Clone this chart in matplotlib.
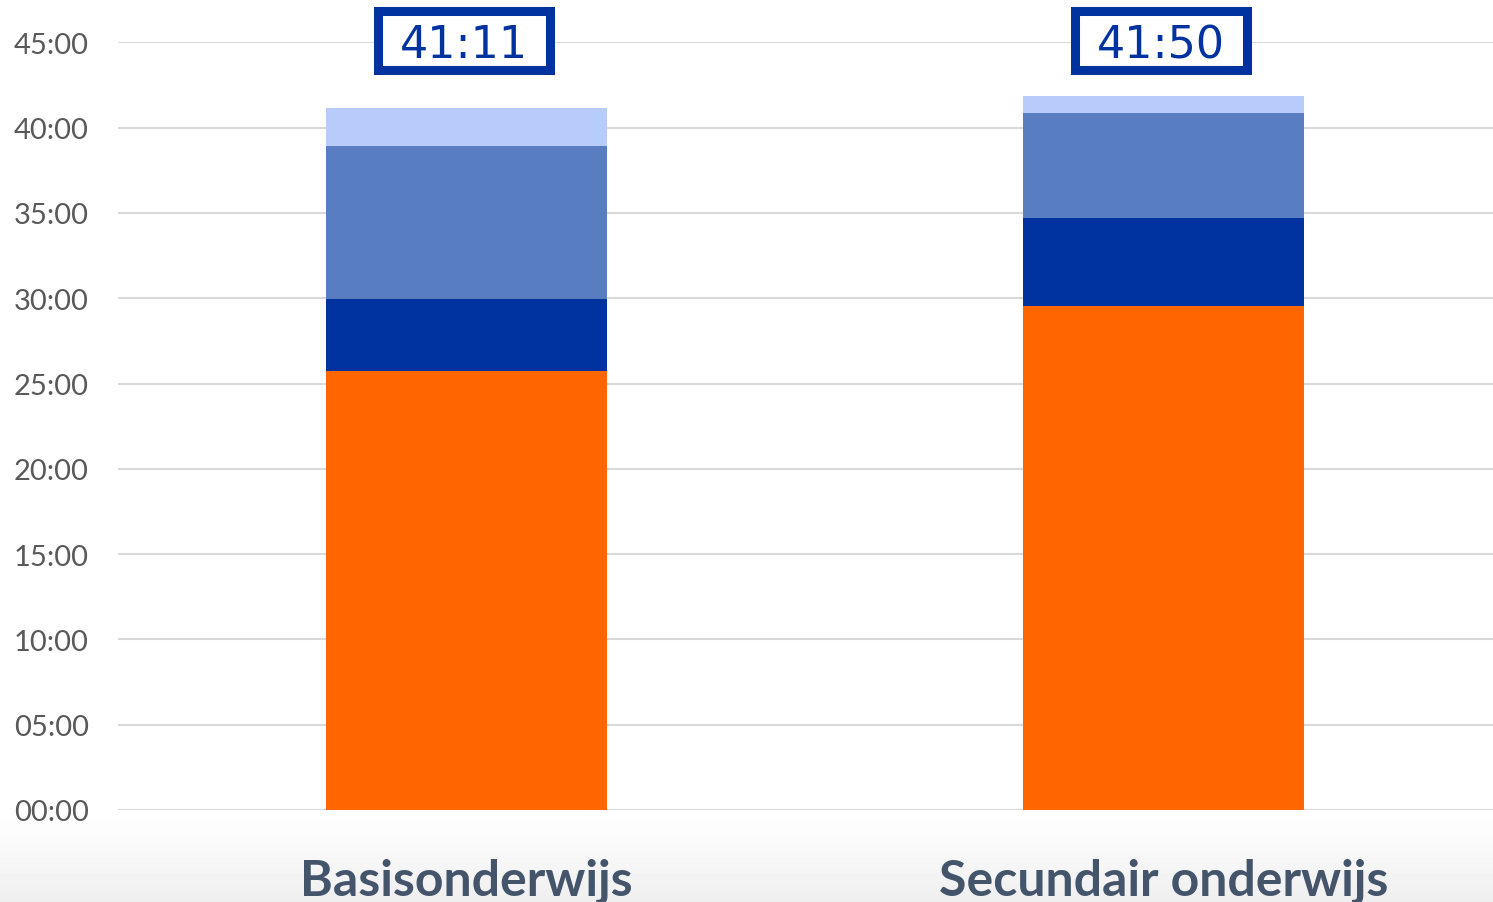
import numpy as np
import matplotlib
matplotlib.use('Agg')
import matplotlib.pyplot as plt
from matplotlib.patches import Rectangle
from matplotlib.ticker import FuncFormatter, MultipleLocator

# categories and stacked segments (minutes, bottom to top)
categories = ['Basisonderwijs', 'Secundair onderwijs']
seg_orange = np.array([1545, 1772])
seg_darkblue = np.array([251, 309])
seg_midblue = np.array([540, 370])
seg_lightblue = np.array([135, 59])
totals = ['41:11', '41:50']

colors = ['#FF6600', '#0033A0', '#587EC1', '#B8CCFC']
segments = [seg_orange, seg_darkblue, seg_midblue, seg_lightblue]

fig = plt.figure(figsize=(14.93, 9.03), dpi=100)

# soft grey gradient at the bottom of the slide
bg = fig.add_axes([0, 0, 1, 1], zorder=-2)
h = 903
grad = np.ones((h, 1))
start = 815
for i in range(start, h):
    grad[i, 0] = 1.0 - 0.065 * (i - start) / (h - start)
bg.imshow(grad, cmap='gray', vmin=0, vmax=1, aspect='auto', extent=[0, 1, 0, 1])
bg.axis('off')

ax = fig.add_axes([118/1493, 92/903, (1512-118)/1493, (811-43.4)/903])
ax.set_facecolor('none')

x = np.arange(len(categories))
width = 0.402
bottom = np.zeros(len(categories))
for seg, c in zip(segments, colors):
    hrs = seg / 60.0
    ax.bar(x, hrs, width, bottom=bottom, color=c, edgecolor='none', zorder=3)
    bottom = bottom + hrs

ax.set_ylim(0, 45)
ax.set_xlim(-0.5, 1.5)
ax.yaxis.set_major_locator(MultipleLocator(5))
ax.yaxis.set_major_formatter(FuncFormatter(lambda v, p: '%02d:00' % int(round(v))))
ax.grid(axis='y', color='#D9D9D9', linewidth=1.5, zorder=0)
ax.set_axisbelow(True)
for s in ax.spines.values():
    s.set_visible(False)

ax.tick_params(axis='y', length=0, pad=21, labelsize=21, labelcolor='#595959')
for lab in ax.get_yticklabels():
    lab.set_family('Lato')
ax.set_xticks(x)
ax.set_xticklabels(categories, fontsize=36, fontweight='bold', color='#44546A', family='Lato')
ax.tick_params(axis='x', length=0, pad=34)

# boxed totals above the bars
for xi, t in zip(x, totals):
    ax.add_patch(Rectangle((xi - 0.004 - 0.1235, 45.13 - 1.73), 0.247, 3.46,
                           facecolor='white', edgecolor='#0033A0', linewidth=6.5,
                           clip_on=False, zorder=5))
    ax.text(xi - 0.004, 45.13, t, ha='center', va='center_baseline', fontsize=32,
            color='#0033A0', family='DejaVu Sans', zorder=6, clip_on=False)

fig.savefig('out.png', dpi=100)
